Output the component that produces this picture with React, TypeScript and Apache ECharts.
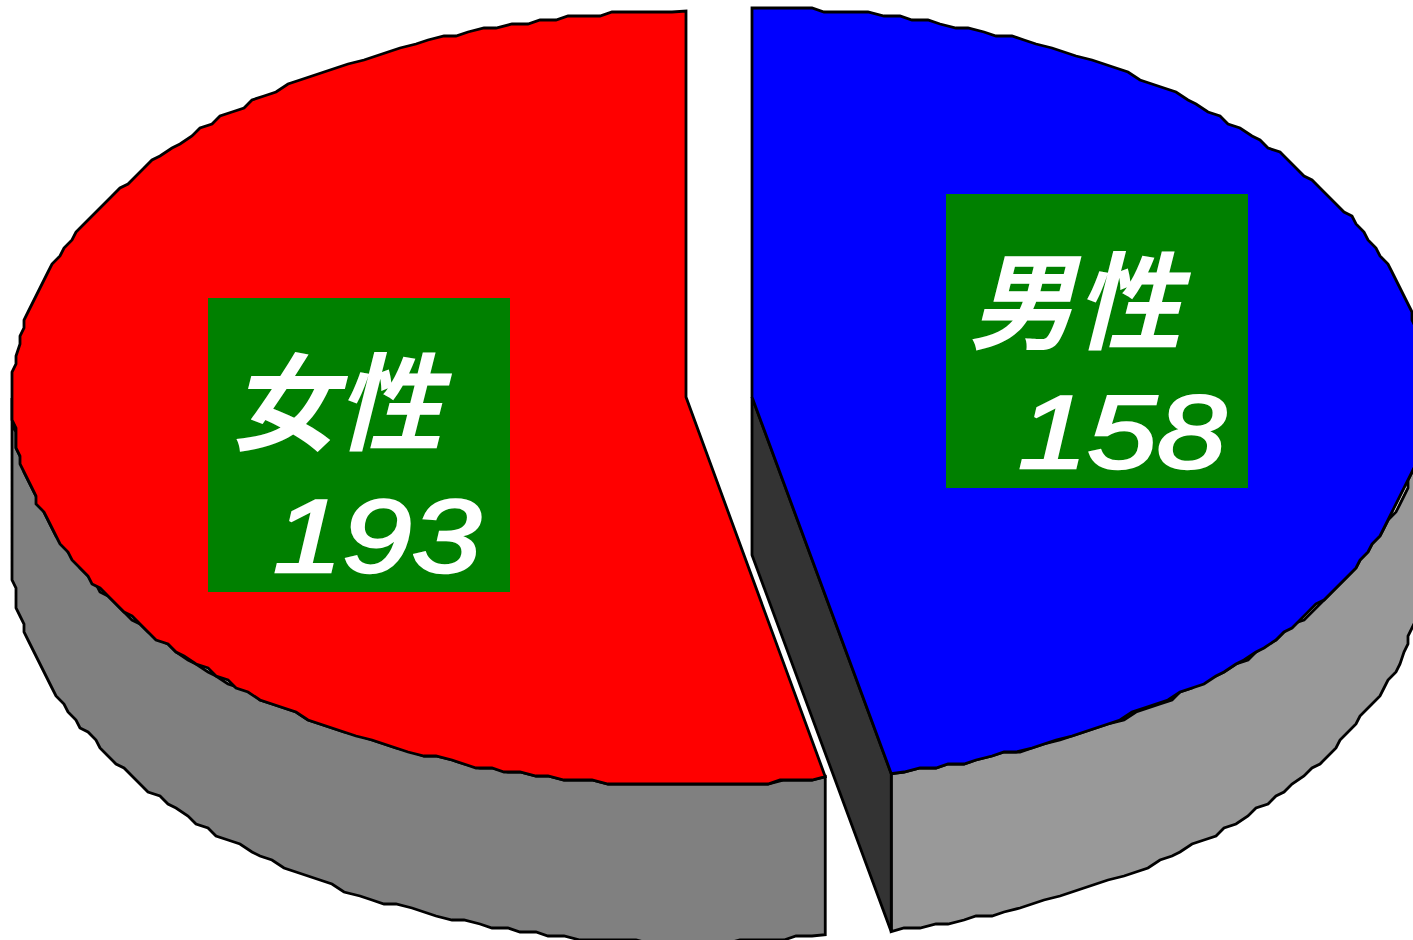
import React, { useEffect, useRef } from "react";
import * as echarts from "echarts";

const categories = ["男性", "女性"];
const values = [158, 193];
const fills = ["#0000ff", "#ff0000"];
const sideFills = ["#999999", "#808080"];
const cutFill = "#333333";
const labelFill = "#008000";

const RX = 674, RY = 387, DEPTH = 158;
const geo = [
  { cx: 752, cy: 395, ax: 752, ay: 397 },
  { cx: 686, cy: 398, ax: 686, ay: 397 },
];
const labelBox = [
  { x: 946, y: 194, w: 302, h: 294, nameX: 1075, nameY: 348, numX: 1122, numY: 484 },
  { x: 208, y: 298, w: 302, h: 294, nameX: 336, nameY: 449, numX: 377, numY: 588 },
];

const total = values[0] + values[1];
// foreshortening of the tilted pie: angle as drawn from the share of the total
const view = (deg: number) => deg + 6.1 * Math.sin(((deg / 2) * Math.PI) / 180);
const boundary = view((values[0] / total) * 360);

const GRID = 4;
function rim(g: any, a0: number, a1: number, dy: number) {
  const pts: number[][] = [];
  const n = Math.max(2, Math.round(Math.abs(a1 - a0) / 1.25));
  for (let i = 0; i <= n; i++) {
    const t = ((a0 + ((a1 - a0) * i) / n) * Math.PI) / 180;
    let x = g.cx + RX * Math.sin(t);
    let y = g.cy - RY * Math.cos(t) + dy;
    if (i > 0 && i < n) {
      x = Math.round(x / GRID) * GRID;
      y = Math.round(y / GRID) * GRID;
    }
    const last = pts[pts.length - 1];
    if (!last || last[0] !== x || last[1] !== y) pts.push([x, y]);
  }
  return pts;
}

const line = { stroke: "#000", lineWidth: 2.8, lineJoin: "miter" as const };

function renderSlice(params: any, api: any) {
  const i = params.dataIndex;
  const g = geo[i];
  const a0 = i === 0 ? 0 : boundary;
  const a1 = i === 0 ? boundary : 360;
  const sideA0 = i === 0 ? 90 : boundary;
  const sideA1 = i === 0 ? boundary : 270;
  const top = rim(g, sideA0, sideA1, 0);
  const bottom = rim(g, sideA1, sideA0, DEPTH);
  const arc = rim(g, a0, a1, 0);
  const children: any[] = [
    { type: "polygon", shape: { points: [...top, ...bottom] }, style: { fill: sideFills[i], ...line } },
  ];
  if (i === 0) {
    const e = arc[arc.length - 1];
    children.push({
      type: "polygon",
      shape: { points: [[g.ax, g.ay], e, [e[0], e[1] + DEPTH], [g.ax, g.ay + DEPTH]] },
      style: { fill: cutFill, ...line },
    });
  }
  children.push({
    type: "polygon",
    shape: { points: [[g.ax, g.ay], ...arc] },
    style: { fill: fills[i], ...line },
  });
  const b = labelBox[i];
  children.push({ type: "rect", shape: { x: b.x, y: b.y, width: b.w, height: b.h }, style: { fill: labelFill } });
  children.push({
    type: "text",
    x: b.nameX, y: b.nameY,
    style: {
      text: categories[i], fill: "#fff", align: "center", verticalAlign: "bottom",
      font: 'italic bold 106px "Noto Sans CJK JP"',
    },
  });
  children.push({
    type: "text",
    x: b.numX, y: b.numY, scaleX: 1.2,
    style: {
      text: String(api.value(0)), fill: "#fff", stroke: "#fff", lineWidth: 2.5,
      align: "center", verticalAlign: "bottom",
      font: 'italic 104px "Liberation Sans"',
    },
  });
  return { type: "group", children };
}

export default function App() {
  const ref = useRef<HTMLDivElement>(null);
  useEffect(() => {
    const chart = echarts.init(ref.current!, undefined, { renderer: "svg" });
    chart.setOption({
      animation: false,
      backgroundColor: "#fff",
      series: [
        {
          type: "custom",
          coordinateSystem: "none",
          clip: false,
          renderItem: renderSlice,
          data: categories.map((name, i) => ({ name, value: [values[i]] })),
        },
      ],
    });
    return () => chart.dispose();
  }, []);
  return <div ref={ref} style={{ position: "fixed", left: 0, top: 0, width: 1413, height: 940 }} />;
}
